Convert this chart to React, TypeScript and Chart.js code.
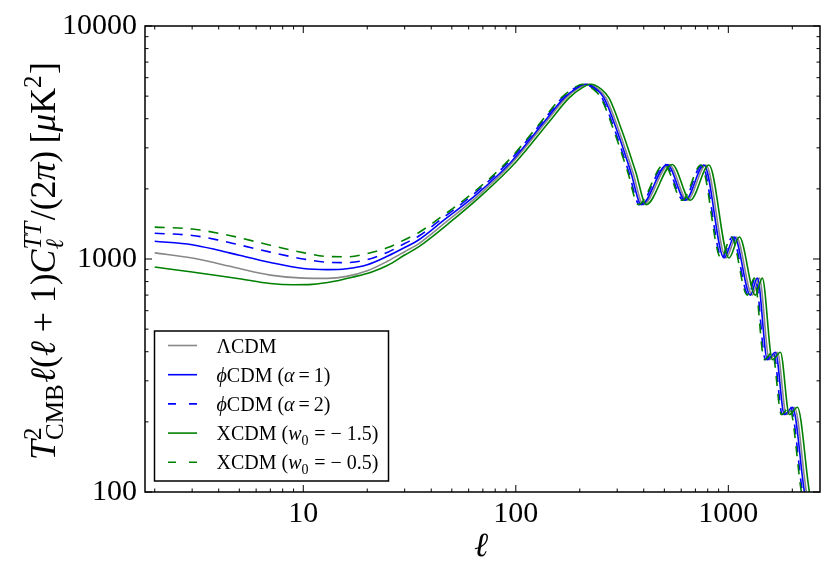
import React, { useEffect, useRef } from 'react';
import { Chart, registerables } from 'chart.js';

Chart.register(...registerables);

const SERIF = '"Liberation Serif", "DejaVu Serif", serif';

// multipole l and D_l = T^2 l(l+1)C_l/(2pi) [muK^2]
const lcdmL = [2, 3, 4, 5, 7, 10, 13, 16, 20, 25, 30, 35, 47, 67, 97, 139, 172, 200, 217, 245, 266, 307, 355, 398, 527, 641, 785, 975, 1091, 1297, 1399, 1560, 1702, 1875, 2047, 2330, 2450];
const lcdmD = [1062, 1010, 955, 910, 853, 828, 826, 842, 890, 980, 1075, 1165, 1442, 1880, 2610, 3880, 4900, 5450, 5620, 5350, 4900, 3515, 2365, 1712, 2545, 1787, 2530, 1010, 1243, 700, 828, 370, 398, 215, 231, 100, 80];

const phi1L = [2, 3, 4, 5, 7, 10, 13, 16, 20, 25, 30, 35, 46, 65.6, 95, 136.1, 168.4, 195.8, 212.4, 239.9, 260.4, 300.6, 347.5, 389.6, 515.9, 627.5, 768.5, 954.5, 1068, 1270, 1370, 1527, 1666, 1836, 2004, 2281, 2398];
const phi1D = [1192, 1152, 1090, 1037, 966, 910, 900, 908, 945, 1030, 1120, 1210, 1471, 1899, 2610, 3880, 4900, 5450, 5620, 5350, 4900, 3515, 2365, 1712, 2545, 1787, 2530, 1010, 1243, 700, 828, 370, 398, 215, 231, 100, 80];

const phi2L = [2, 3, 4, 5, 7, 10, 13, 16, 20, 25, 30, 35, 45, 64.2, 92.9, 133.2, 164.8, 191.6, 207.9, 234.7, 254.8, 294.1, 340.1, 381.3, 504.9, 614.1, 752, 934.1, 1045, 1243, 1340, 1495, 1631, 1796, 1961, 2232, 2347];
const phi2D = [1290, 1262, 1205, 1150, 1070, 1000, 968, 965, 995, 1070, 1165, 1255, 1492, 1918, 2623, 3880, 4900, 5450, 5620, 5350, 4900, 3515, 2365, 1712, 2545, 1787, 2530, 1010, 1243, 700, 828, 370, 398, 215, 231, 100, 80];

const x15L = [2, 3, 4, 5, 7, 9, 11, 14, 17, 21, 25, 30, 35, 48.6, 69.2, 100.2, 143.6, 177.7, 206.6, 224.2, 253.1, 274.8, 317.1, 366.7, 411.1, 544.4, 662.2, 810.9, 1007, 1127, 1340, 1445, 1612, 1758, 1937, 2115, 2407, 2530];
const x15D = [924, 879, 848, 823, 785, 775, 778, 802, 835, 880, 940, 1040, 1130, 1428, 1880, 2610, 3880, 4900, 5450, 5620, 5350, 4900, 3515, 2365, 1712, 2545, 1787, 2530, 1010, 1243, 700, 828, 370, 398, 215, 231, 100, 80];

const x05L = [2, 3, 4, 5, 7, 10, 13, 16, 20, 25, 30, 35, 44.5, 63.4, 91.9, 131.6, 162.9, 189.4, 205.5, 232, 251.9, 290.7, 336.2, 376.9, 499.1, 607, 743.4, 923.3, 1033, 1228, 1325, 1477, 1612, 1776, 1939, 2207, 2320];
const x05D = [1370, 1345, 1290, 1235, 1145, 1065, 1025, 1022, 1055, 1120, 1210, 1300, 1514, 1936, 2636, 3880, 4900, 5450, 5620, 5350, 4900, 3515, 2365, 1712, 2545, 1787, 2530, 1010, 1243, 700, 828, 370, 398, 215, 231, 100, 80];

const xTicks = [2, 3, 4, 5, 6, 7, 8, 9, 10, 20, 30, 40, 50, 60, 70, 80, 90, 100, 200, 300, 400, 500, 600, 700, 800, 900, 1000, 2000];
const yTicks = [100, 200, 300, 400, 500, 600, 700, 800, 900, 1000, 2000, 3000, 4000, 5000, 6000, 7000, 8000, 9000, 10000];
const xMajor = [10, 100, 1000];
const yMajor = [100, 1000, 10000];

type Seg = { t?: string; it?: boolean; sub?: string; sup?: string; subIt?: boolean; supIt?: boolean };

const fnt = (size: number, it?: boolean) => `${it ? 'italic ' : ''}${size}px ${SERIF}`;

function rich(ctx: CanvasRenderingContext2D, segs: Seg[], x: number, y: number, size: number, draw: boolean): number {
  let cx = x;
  const small = size * 0.7;
  for (const s of segs) {
    if (s.t !== undefined) {
      ctx.font = fnt(size, s.it);
      if (draw) ctx.fillText(s.t, cx, y);
      cx += ctx.measureText(s.t).width;
    } else {
      let w = 0;
      if (s.sup) {
        ctx.font = fnt(small, s.supIt);
        if (draw) ctx.fillText(s.sup, cx, y - size * 0.4);
        w = Math.max(w, ctx.measureText(s.sup).width);
      }
      if (s.sub) {
        ctx.font = fnt(small, s.subIt);
        if (draw) ctx.fillText(s.sub, cx, y + size * 0.22);
        w = Math.max(w, ctx.measureText(s.sub).width);
      }
      cx += w + size * 0.04;
    }
  }
  return cx - x;
}

const yTitle: Seg[] = [
  { t: 'T', it: true }, { sup: '2', sub: 'CMB' }, { t: '\u2113', it: true }, { t: '(' }, { t: '\u2113', it: true },
  { t: ' + 1)' }, { t: 'C', it: true }, { sup: 'TT', supIt: true, sub: '\u2113', subIt: true },
  { t: '/(2' }, { t: '\u03c0', it: true }, { t: ')\u2009[' }, { t: '\u03bc', it: true }, { t: 'K' }, { sup: '2' }, { t: ']' },
];

const legendItems: { segs: Seg[]; color: string; dash: number[] }[] = [
  { segs: [{ t: '\u039bCDM' }], color: '#888888', dash: [] },
  { segs: [{ t: '\u03d5', it: true }, { t: 'CDM (' }, { t: '\u03b1', it: true }, { t: '\u2009=\u20091)' }], color: '#0000ff', dash: [] },
  { segs: [{ t: '\u03d5', it: true }, { t: 'CDM (' }, { t: '\u03b1', it: true }, { t: '\u2009=\u20092)' }], color: '#0000ff', dash: [8, 13] },
  { segs: [{ t: 'XCDM (' }, { t: 'w', it: true }, { sub: '0' }, { t: ' = \u2212 1.5)' }], color: '#008000', dash: [] },
  { segs: [{ t: 'XCDM (' }, { t: 'w', it: true }, { sub: '0' }, { t: ' = \u2212 0.5)' }], color: '#008000', dash: [8, 13] },
];

const decor = {
  id: 'decor',
  afterDraw(chart: any) {
    const ctx: CanvasRenderingContext2D = chart.ctx;
    const { left, right, top, bottom } = chart.chartArea;
    const xs = chart.scales.x;
    const ys = chart.scales.y;
    ctx.save();
    ctx.strokeStyle = '#000';
    ctx.lineWidth = 1;
    ctx.beginPath();
    for (const v of xTicks) {
      const px = xs.getPixelForValue(v);
      const len = xMajor.includes(v) ? 7 : 3.5;
      ctx.moveTo(px, bottom); ctx.lineTo(px, bottom - len);
      ctx.moveTo(px, top); ctx.lineTo(px, top + len);
    }
    for (const v of yTicks) {
      const py = ys.getPixelForValue(v);
      const len = yMajor.includes(v) ? 7 : 3.5;
      ctx.moveTo(left, py); ctx.lineTo(left + len, py);
      ctx.moveTo(right, py); ctx.lineTo(right - len, py);
    }
    ctx.stroke();
    ctx.lineWidth = 1.5;
    ctx.strokeRect(left, top, right - left, bottom - top);

    // legend
    const bx = 154.5, by = 331, bw = 234, bh = 150;
    ctx.fillStyle = '#fff';
    ctx.fillRect(bx, by, bw, bh);
    ctx.lineWidth = 1.5;
    ctx.strokeStyle = '#000';
    ctx.strokeRect(bx, by, bw, bh);
    legendItems.forEach((it, i) => {
      const ry = 345.5 + i * 29.2;
      ctx.beginPath();
      ctx.strokeStyle = it.color;
      ctx.lineWidth = 1.6;
      ctx.setLineDash(it.dash);
      ctx.moveTo(168, ry); ctx.lineTo(197, ry);
      ctx.stroke();
      ctx.setLineDash([]);
      ctx.fillStyle = '#000';
      ctx.textBaseline = 'alphabetic';
      ctx.textAlign = 'left';
      rich(ctx, it.segs, 216.5, ry + 7, 20, true);
    });

    // axis titles
    ctx.fillStyle = '#000';
    ctx.textAlign = 'left';
    ctx.textBaseline = 'alphabetic';
    ctx.font = fnt(34, true);
    ctx.fillText('\u2113', 481 - ctx.measureText('\u2113').width / 2, 556);

    const w0 = rich(ctx, yTitle, 0, 0, 30, false);
    const size = 30 * 398 / w0;
    const w = rich(ctx, yTitle, 0, 0, size, false);
    ctx.translate(55, 261);
    ctx.rotate(-Math.PI / 2);
    rich(ctx, yTitle, -w / 2, 0, size, true);
    ctx.restore();
  },
};

const pts = (l: number[], d: number[]) => l.map((v, i) => ({ x: v, y: d[i] }));

export default function App() {
  const canvasRef = useRef<HTMLCanvasElement>(null);

  useEffect(() => {
    if (!canvasRef.current) return;
    const line = { pointRadius: 0, borderWidth: 1.6, cubicInterpolationMode: 'monotone' as const, fill: false };
    const chart = new Chart(canvasRef.current, {
      type: 'line',
      data: {
        datasets: [
          { ...line, label: 'LCDM', data: pts(lcdmL, lcdmD), borderColor: '#888888', order: 5 },
          { ...line, label: 'phiCDM a=1', data: pts(phi1L, phi1D), borderColor: '#0000ff', order: 4 },
          { ...line, label: 'phiCDM a=2', data: pts(phi2L, phi2D), borderColor: '#0000ff', borderDash: [10, 8], order: 3 },
          { ...line, label: 'XCDM w0=-1.5', data: pts(x15L, x15D), borderColor: '#008000', order: 2 },
          { ...line, label: 'XCDM w0=-0.5', data: pts(x05L, x05D), borderColor: '#008000', borderDash: [10, 8], order: 1 },
        ],
      },
      options: {
        animation: false,
        responsive: false,
        events: [],
        layout: { padding: { top: 25, right: 10, left: 0, bottom: 0 } },
        plugins: { legend: { display: false }, tooltip: { enabled: false } },
        scales: {
          x: {
            type: 'logarithmic',
            min: 1.8,
            max: 2700,
            grid: { display: false, drawTicks: false },
            border: { display: false },
            afterBuildTicks: (s: any) => { s.ticks = xTicks.map((v) => ({ value: v })); },
            afterFit: (s: any) => { s.height = 84; },
            ticks: {
              autoSkip: false, maxRotation: 0, padding: 4, color: '#000',
              font: { family: SERIF, size: 30 },
              callback: (v: any) => (xMajor.includes(Number(v)) ? String(v) : ''),
            },
          },
          y: {
            type: 'logarithmic',
            min: 100,
            max: 10000,
            grid: { display: false, drawTicks: false },
            border: { display: false },
            afterBuildTicks: (s: any) => { s.ticks = yTicks.map((v) => ({ value: v })); },
            afterFit: (s: any) => { s.width = 145; },
            ticks: {
              autoSkip: false, padding: 8, color: '#000',
              font: { family: SERIF, size: 30 },
              callback: (v: any) => (yMajor.includes(Number(v)) ? String(v) : ''),
            },
          },
        },
      },
      plugins: [decor],
    });
    return () => chart.destroy();
  }, []);

  return (
    <div style={{ position: 'absolute', left: 0, top: 0, width: 830, height: 576, background: '#fff' }}>
      <canvas ref={canvasRef} width={830} height={576} />
    </div>
  );
}
